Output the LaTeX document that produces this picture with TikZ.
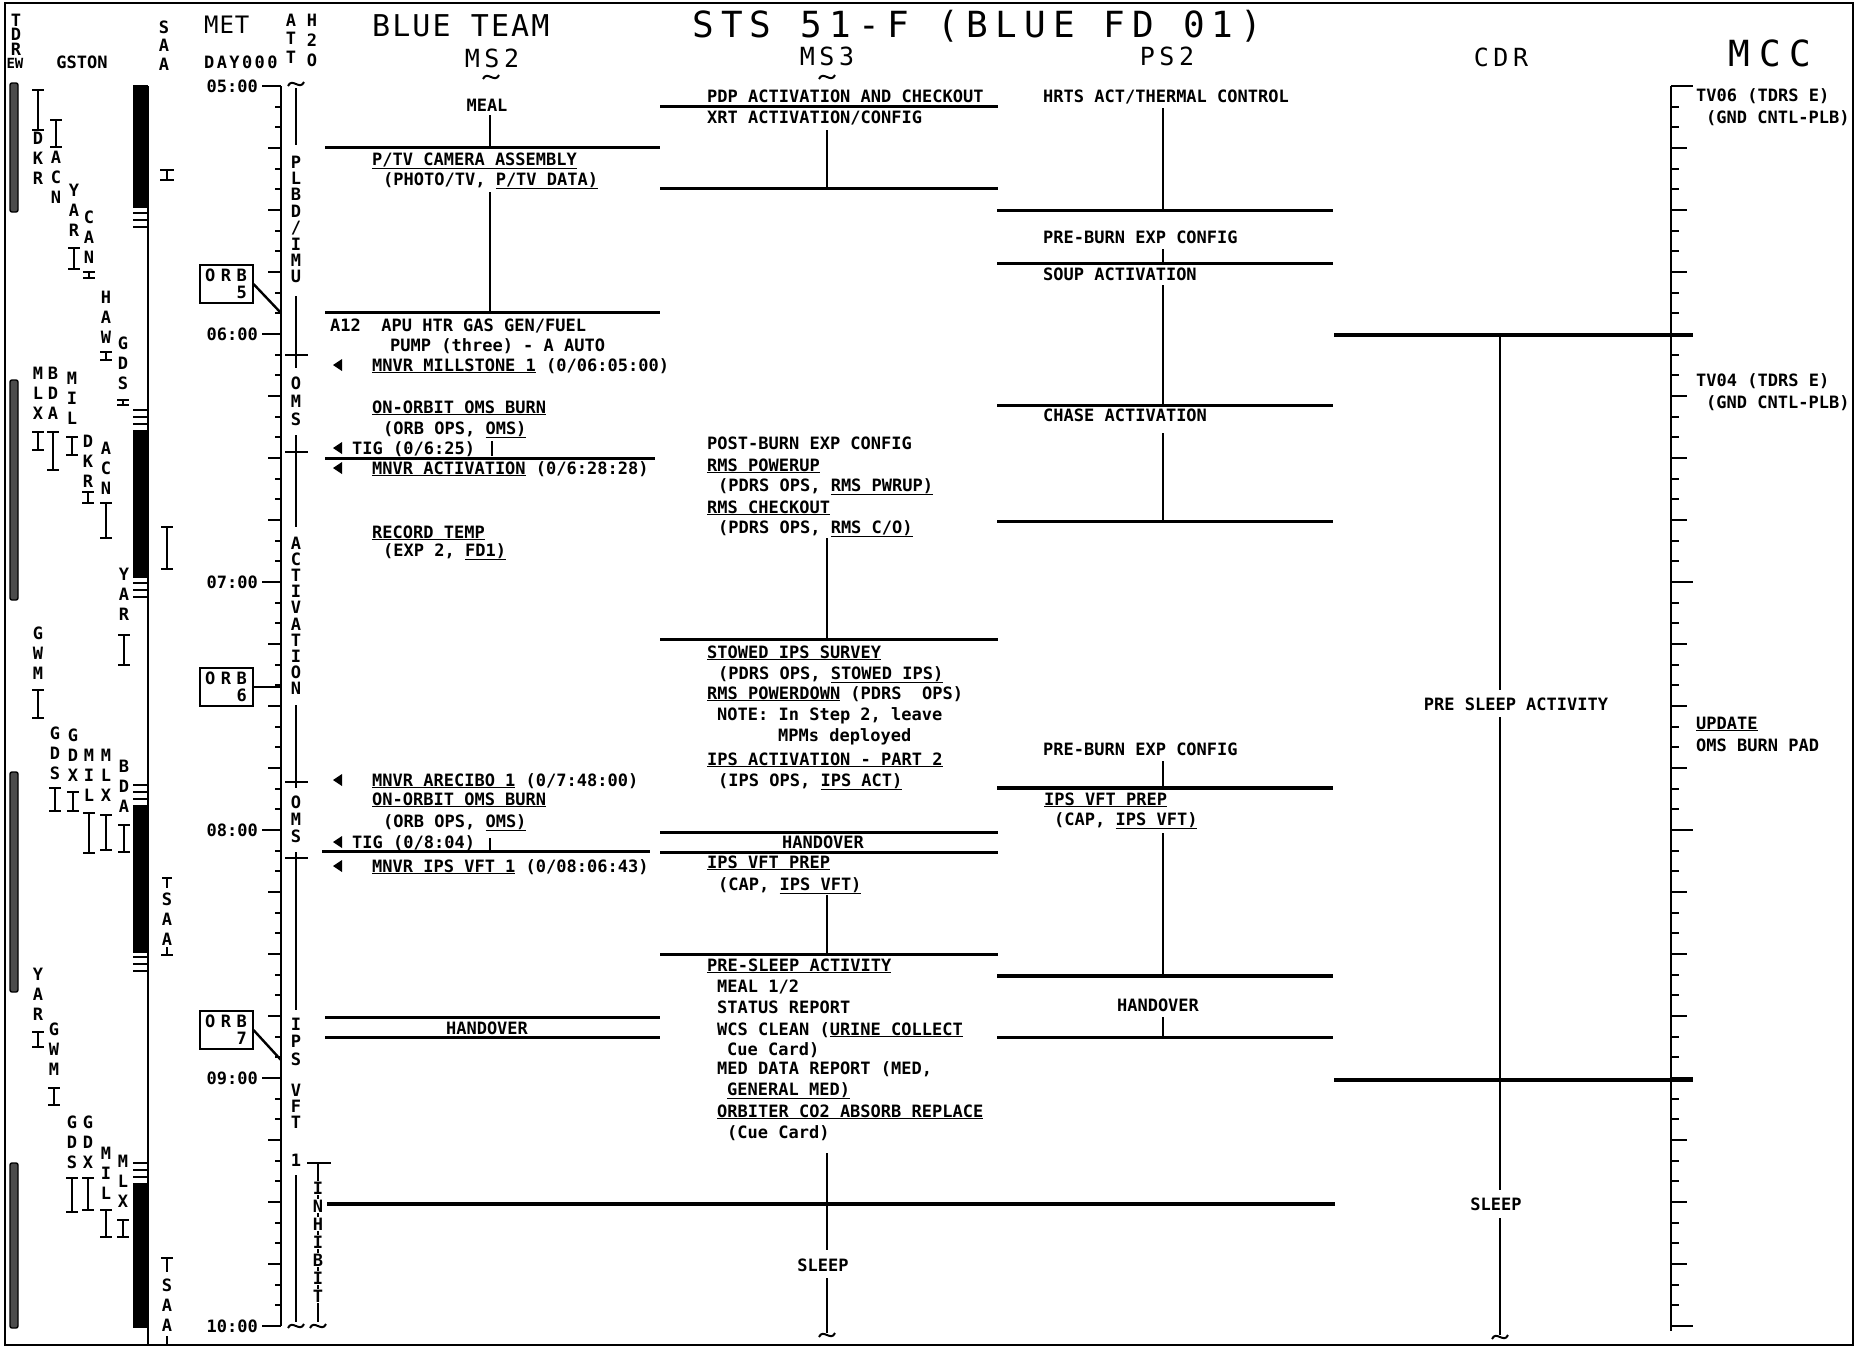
\documentclass[tikz,border=0pt]{standalone}
\usepackage{fontspec}
\setmainfont{DejaVu Sans Mono}
\usetikzlibrary{positioning}

\newcommand{\actfont}{\fontsize{17}{17}\selectfont\bfseries}
\newcommand{\hdfont}[2]{\fontsize{#1}{#1}\selectfont\addfontfeature{LetterSpace=#2}}
\newcommand{\ltri}[2]{\fill (#1,#2) -- (#1+9,#2-6) -- (#1+9,#2+6) -- cycle;}
\newcommand{\squig}[2]{\draw[squig] (#1-8,#2+2) .. controls (#1-4,#2-7) and (#1+4,#2+7) .. (#1+8,#2-2);}
\newcommand{\vword}[6][vl]{\foreach \ltr [count=\nn from 0] in {#6} \node[#1] (#2-\nn) at (#3,{#4+\nn*#5}) {\ltr};}
\newcommand{\gstn}[6]{\vword{#1}{#2}{#3}{20}{#4}
  \draw[beam] (#2-6,#5) -- (#2+6,#5) (#2,#5) -- (#2,#6) (#2-6,#6) -- (#2+6,#6);}

\tikzset{
  txt/.style={anchor=west,inner sep=0pt,text height=12pt,text depth=0pt,font=\actfont},
  ctxt/.style={txt,anchor=center},
  vl/.style={inner sep=0pt,text height=12pt,text depth=0pt,font=\actfont},
  vlw/.style={vl,fill=white,inner ysep=1pt},
  hdr/.style={inner sep=0pt,text depth=0pt},
  hln/.style={line width=3pt},
  thk/.style={line width=4pt},
  vln/.style={line width=2.4pt},
  mtick/.style={line width=2pt},
  beam/.style={line width=2.2pt},
  tdrs/.style={draw,line width=1.4pt,fill=black!70,rounded corners=2pt},
  orb/.style={draw,line width=2pt,align=right,inner sep=3pt,minimum width=53pt,minimum height=38pt,font=\actfont},
  squig/.style={line width=2pt}
}

\begin{document}
\begin{tikzpicture}[x=1pt,y=-1pt]
\useasboundingbox (0,0) rectangle (1856,1347);
\draw[line width=2.5pt] (5,3) rectangle (1853,1345);

\vword{tdr}{16}{20}{14.5}{T,D,R}
\node[vl,font=\fontsize{14}{14}\selectfont\bfseries] (ew) at (15,62) {EW};
\node[ctxt] (gston) at (82,62) {GSTON};
\vword{saah}{164}{27}{18.5}{S,A,A}
\node[hdr,anchor=west,text height=17.5pt,font=\hdfont{24}{4}] (met) at (204,25) {MET};
\node[txt,font=\actfont\addfontfeature{LetterSpace=14}] (day) at (204,62) {DAY000};
\vword{att}{291}{20}{18.5}{A,T,T}
\vword{hto}{312}{20}{20}{H,2,O}
\node[hdr,anchor=west,text height=22pt,font=\hdfont{30}{7}] (blue) at (372,25) {BLUE TEAM};
\node[hdr,anchor=west,text height=26pt,font=\hdfont{36}{20}] (sts) at (692,24) {STS 51-F (BLUE FD 01)};
\node[hdr,text height=18pt,font=\hdfont{25}{18}] (ms2) at (492,58) {MS2};
\node[hdr,text height=18pt,font=\hdfont{25}{18}] (ms3) at (827,56) {MS3};
\node[hdr,text height=18pt,font=\hdfont{25}{18}] (ps2) at (1167,56) {PS2};
\node[hdr,text height=18pt,font=\hdfont{25}{18}] (cdr) at (1501,57) {CDR};
\node[hdr,text height=26pt,font=\hdfont{36}{25}] (mcc) at (1770,53) {MCC};
\squig{491}{77} \squig{827}{77}

\draw[tdrs] (10,83) rectangle (18,212);
\draw[tdrs] (10,380) rectangle (18,600);
\draw[tdrs] (10,772) rectangle (18,992);
\draw[tdrs] (10,1163) rectangle (18,1328);

\gstn{dkra}{38}{138}{D,K,R}{90}{130}
\gstn{acna}{56}{157}{A,C,N}{120}{147}
\gstn{yara}{74}{190}{Y,A,R}{248}{269}
\gstn{cana}{89}{217}{C,A,N}{272}{278}
\gstn{hawa}{106}{297}{H,A,W}{352}{360}
\gstn{gdsa}{123}{343}{G,D,S}{400}{405}
\gstn{mlxa}{38}{373}{M,L,X}{432}{450}
\gstn{bdaa}{53}{373}{B,D,A}{432}{470}
\gstn{mila}{72}{378}{M,I,L}{437}{455}
\gstn{dkrb}{88}{441}{D,K,R}{492}{503}
\gstn{acnb}{106}{448}{A,C,N}{503}{538}
\gstn{yarb}{124}{574}{Y,A,R}{635}{665}
\gstn{gwma}{38}{633}{G,W,M}{690}{718}
\gstn{gdsb}{55}{733}{G,D,S}{788}{811}
\gstn{gdxa}{73}{735}{G,D,X}{792}{811}
\gstn{milb}{89}{755}{M,I,L}{813}{853}
\gstn{mlxb}{106}{755}{M,L,X}{815}{850}
\gstn{bdab}{124}{766}{B,D,A}{825}{852}
\gstn{yarc}{38}{974}{Y,A,R}{1032}{1047}
\gstn{gwmb}{54}{1029}{G,W,M}{1088}{1105}
\gstn{gdsc}{72}{1122}{G,D,S}{1178}{1212}
\gstn{gdxb}{88}{1122}{G,D,X}{1178}{1210}
\gstn{milc}{106}{1153}{M,I,L}{1210}{1237}
\gstn{mlxc}{123}{1161}{M,L,X}{1220}{1237}

\fill (133,85) rectangle (148,208);
\fill (133,430) rectangle (148,578);
\fill (133,805) rectangle (148,953);
\fill (133,1183) rectangle (148,1328);
\draw[line width=1.6pt] (148,86) -- (148,1345);
\foreach \y in {213,410,583,785,957,1163} \draw[line width=1.8pt] (133,\y) -- (148,\y) (133,\y+7) -- (148,\y+7) (133,\y+14) -- (148,\y+14);
\draw[beam] (160,170) -- (174,170) (167,170) -- (167,180) (160,180) -- (174,180);
\draw[beam] (161,527) -- (173,527) (167,527) -- (167,569) (161,569) -- (173,569);
\draw[beam] (162,878) -- (172,878) (167,878) -- (167,888);
\vword{saab}{167}{899}{20}{S,A,A}
\draw[beam] (167,947) -- (167,955) (161,955) -- (173,955);
\draw[beam] (161,1258) -- (173,1258) (167,1258) -- (167,1272);
\vword{saac}{167}{1285}{20}{S,A,A}
\draw[beam] (167,1336) -- (167,1345);

\draw[vln] (281,86) -- (281,1326);
\draw[vln] (1671,86) -- (1671,1331);
\foreach \m in {0,...,60}{
  \pgfmathsetmacro\tl{mod(\m,12)==0 ? 19 : (mod(\m,3)==0 ? 13 : 6)}
  \pgfmathsetmacro\tr{mod(\m,12)==0 ? 22 : (mod(\m,3)==0 ? 16 : 8)}
  \draw[mtick] ({281-\tl},{86+\m*248/12}) -- (281,{86+\m*248/12});
  \draw[mtick] (1671,{86+\m*248/12}) -- ({1671+\tr},{86+\m*248/12});
}
\foreach \h [count=\nn from 0] in {05,06,07,08,09,10} \node[txt,anchor=east] (met\h) at (258,{86+\nn*248}) {\h:00};

\draw[vln] (296,88) -- (296,145) (296,296) -- (296,368) (296,435) -- (296,527) (296,705) -- (296,788) (296,852) -- (296,1010) (296,1175) -- (296,1322);
\foreach \y in {355,452,782,858} \draw[vln] (285,\y) -- (308,\y);
\squig{296}{84} \squig{296}{1326}
\vword{plbd}{296}{162}{16.4}{P,L,B,D,{/},I,M,U}
\vword{omsa}{296}{383}{18}{O,M,S}
\vword{actv}{296}{543}{16.2}{A,C,T,I,V,A,T,I,O,N}
\vword{omsb}{296}{802}{17}{O,M,S}
\vword{ips}{296}{1024}{17.5}{I,P,S}
\vword{vft}{296}{1090}{16}{V,F,T}
\node[vl] (vftone) at (296,1160) {1};
\draw[vln] (307,1163) -- (331,1163) (318,1163) -- (318,1322);
\vword[vlw]{inh}{318}{1188}{18}{I,N,H,I,B,I,T}
\squig{318}{1326}

\node[orb] (orb5) at (226,284) {{\addfontfeature{LetterSpace=33}ORB}\\5};
\node[orb] (orb6) at (226,687) {{\addfontfeature{LetterSpace=33}ORB}\\6};
\node[orb] (orb7) at (226,1030) {{\addfontfeature{LetterSpace=33}ORB}\\7};
\coordinate (orb5ax) at (281,313);
\coordinate (orb6ax) at (281,687);
\coordinate (orb7ax) at (281,1060);
\draw[vln] (orb5.east) -- (orb5ax);
\draw[vln] (orb6.east) -- (orb6ax);
\draw[vln] (orb7.east) -- (orb7ax);

\node[ctxt] (meal) at (487,105) {MEAL};
\draw[vln] (490,115) -- (490,147);
\draw[hln] (325,147) -- (660,147);
\node[txt] (ptv) at (372,159) {\underline{P/TV CAMERA ASSEMBLY}};
\node[txt] (ptvb) at (383,179) {(PHOTO/TV, \underline{P/TV DATA)}};
\draw[vln] (490,192) -- (490,312);
\draw[hln] (325,312) -- (660,312);
\node[txt] (apu) at (330,325) {A12\ \ APU HTR GAS GEN/FUEL};
\node[txt] (pump) at (390,345) {PUMP (three) - A AUTO};
\ltri{333}{365} \node[txt] (mill) at (372,365) {\underline{MNVR MILLSTONE 1} (0/06:05:00)};
\node[txt] (omsburna) at (372,407) {\underline{ON-ORBIT OMS BURN}};
\node[txt] (omsburnb) at (383,428) {(ORB OPS, \underline{OMS)}};
\ltri{333}{448} \node[txt] (tiga) at (352,448) {TIG (0/6:25)};
\draw[hln] (325,458) -- (655,458);
\draw[vln] (492,441) -- (492,456);
\ltri{333}{468} \node[txt] (mnvract) at (372,468) {\underline{MNVR ACTIVATION} (0/6:28:28)};
\node[txt] (rectemp) at (372,532) {\underline{RECORD TEMP}};
\node[txt] (rectempb) at (383,550) {(EXP 2, \underline{FD1)}};
\ltri{333}{780} \node[txt] (arecibo) at (372,780) {\underline{MNVR ARECIBO 1} (0/7:48:00)};
\node[txt] (omsburnc) at (372,799) {\underline{ON-ORBIT OMS BURN}};
\node[txt] (omsburnd) at (383,821) {(ORB OPS, \underline{OMS)}};
\ltri{333}{842} \node[txt] (tigb) at (352,842) {TIG (0/8:04)};
\draw[hln] (322,851) -- (650,851);
\draw[vln] (490,838) -- (490,850);
\ltri{333}{866} \node[txt] (mnvrips) at (372,866) {\underline{MNVR IPS VFT 1} (0/08:06:43)};
\draw[hln] (325,1017) -- (660,1017);
\draw[hln] (325,1037) -- (660,1037);
\node[ctxt] (handa) at (487,1028) {HANDOVER};
\draw[thk] (327,1204) -- (1335,1204);

\draw[hln] (660,106) -- (998,106);
\node[txt] (pdp) at (707,96) {PDP ACTIVATION AND CHECKOUT};
\node[txt] (xrt) at (707,117) {XRT ACTIVATION/CONFIG};
\draw[vln] (827,130) -- (827,188);
\draw[hln] (660,188) -- (998,188);
\node[txt] (postburn) at (707,443) {POST-BURN EXP CONFIG};
\node[txt] (rmsup) at (707,465) {\underline{RMS POWERUP}};
\node[txt] (rmsupb) at (718,485) {(PDRS OPS, \underline{RMS PWRUP)}};
\node[txt] (rmsco) at (707,507) {\underline{RMS CHECKOUT}};
\node[txt] (rmscob) at (718,527) {(PDRS OPS, \underline{RMS C/O)}};
\draw[vln] (827,538) -- (827,639);
\draw[hln] (660,639) -- (998,639);
\node[txt] (stowed) at (707,652) {\underline{STOWED IPS SURVEY}};
\node[txt] (stowedb) at (718,673) {(PDRS OPS, \underline{STOWED IPS)}};
\node[txt] (rmsdn) at (707,693) {\underline{RMS POWERDOWN} (PDRS\ \ OPS)};
\node[txt] (note) at (717,714) {NOTE: In Step 2, leave};
\node[txt] (mpms) at (778,735) {MPMs deployed};
\node[txt] (ipsact) at (707,759) {\underline{IPS ACTIVATION - PART 2}};
\node[txt] (ipsactb) at (718,780) {(IPS OPS, \underline{IPS ACT)}};
\draw[hln] (660,832) -- (998,832);
\draw[hln] (660,852) -- (998,852);
\node[ctxt] (handb) at (823,842) {HANDOVER};
\node[txt] (vftprepa) at (707,862) {\underline{IPS VFT PREP}};
\node[txt] (vftprepb) at (718,884) {(CAP, \underline{IPS VFT)}};
\draw[vln] (827,895) -- (827,954);
\draw[hln] (660,954) -- (998,954);
\node[txt] (presleep) at (707,965) {\underline{PRE-SLEEP ACTIVITY}};
\node[txt] (mealhalf) at (717,986) {MEAL 1/2};
\node[txt] (status) at (717,1007) {STATUS REPORT};
\node[txt] (wcs) at (717,1029) {WCS CLEAN (\underline{URINE COLLECT}};
\node[txt] (cuea) at (727,1049) {Cue Card)};
\node[txt] (med) at (717,1068) {MED DATA REPORT (MED,};
\node[txt] (medb) at (727,1089) {\underline{GENERAL MED)}};
\node[txt] (cotwo) at (717,1111) {\underline{ORBITER CO2 ABSORB REPLACE}};
\node[txt] (cueb) at (727,1132) {(Cue Card)};
\draw[vln] (827,1153) -- (827,1250);
\node[ctxt] (sleepa) at (823,1265) {SLEEP};
\draw[vln] (827,1278) -- (827,1333);
\squig{827}{1335}

\node[txt] (hrts) at (1043,96) {HRTS ACT/THERMAL CONTROL};
\draw[vln] (1163,108) -- (1163,210);
\draw[hln] (997,210) -- (1333,210);
\node[txt] (preburna) at (1043,237) {PRE-BURN EXP CONFIG};
\draw[vln] (1163,249) -- (1163,263);
\draw[hln] (997,263) -- (1333,263);
\node[txt] (soup) at (1043,274) {SOUP ACTIVATION};
\draw[vln] (1163,285) -- (1163,405);
\draw[hln] (997,405) -- (1333,405);
\node[txt] (chase) at (1043,415) {CHASE ACTIVATION};
\draw[vln] (1163,433) -- (1163,521);
\draw[hln] (997,521) -- (1333,521);
\node[txt] (preburnb) at (1043,749) {PRE-BURN EXP CONFIG};
\draw[vln] (1163,761) -- (1163,788);
\draw[thk] (997,788) -- (1333,788);
\node[txt] (vftprepc) at (1044,799) {\underline{IPS VFT PREP}};
\node[txt] (vftprepd) at (1054,819) {(CAP, \underline{IPS VFT)}};
\draw[vln] (1163,833) -- (1163,976);
\draw[thk] (997,976) -- (1333,976);
\node[ctxt] (handc) at (1158,1005) {HANDOVER};
\draw[vln] (1163,1017) -- (1163,1037);
\draw[hln] (997,1037) -- (1333,1037);

\draw[thk] (1334,335) -- (1693,335);
\draw[thk] (1334,1080) -- (1693,1080);
\draw[vln] (1500,335) -- (1500,690) (1500,717) -- (1500,1190) (1500,1218) -- (1500,1335);
\node[ctxt] (presleepc) at (1516,704) {PRE SLEEP ACTIVITY};
\node[ctxt] (sleepb) at (1496,1204) {SLEEP};
\squig{1500}{1337}

\node[txt] (tvsix) at (1696,95) {TV06 (TDRS E)};
\node[txt] (tvsixb) at (1706,117) {(GND CNTL-PLB)};
\node[txt] (tvfour) at (1696,380) {TV04 (TDRS E)};
\node[txt] (tvfourb) at (1706,402) {(GND CNTL-PLB)};
\node[txt] (update) at (1696,723) {\underline{UPDATE}};
\node[txt] (burnpad) at (1696,745) {OMS BURN PAD};
\end{tikzpicture}
\end{document}
